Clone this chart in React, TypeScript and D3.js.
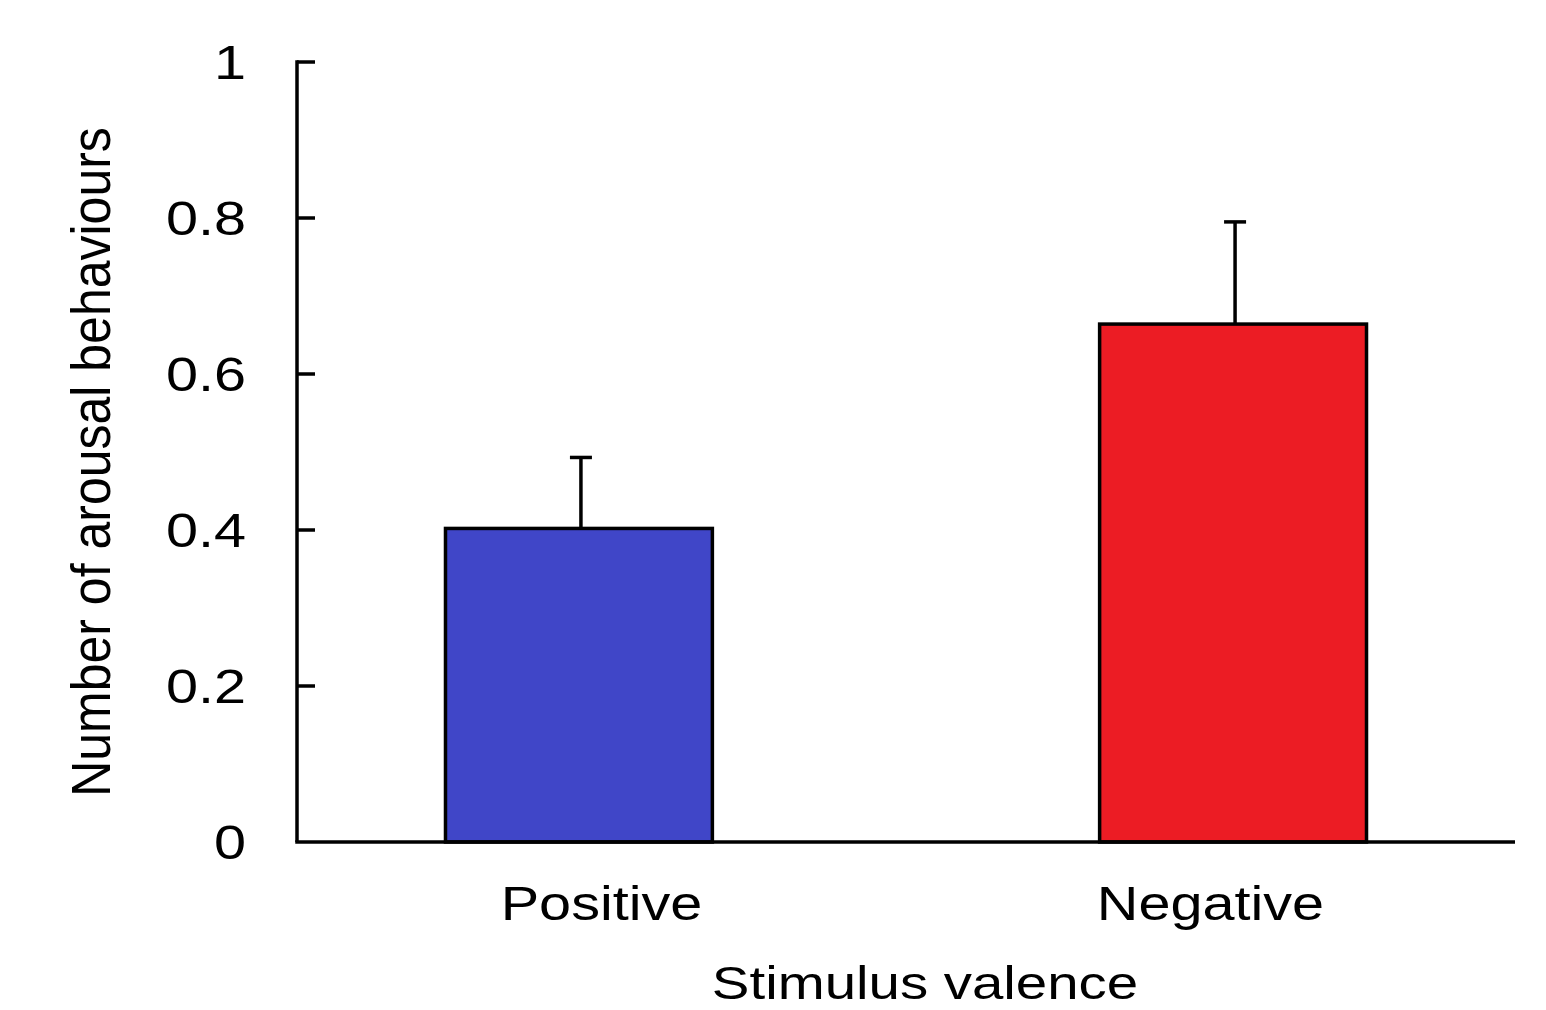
import React from 'react';
import * as d3 from 'd3';

const categories = ['Positive', 'Negative'];
const means = [0.402, 0.664];
const errors = [0.091, 0.131];
const barColors = ['#4046c8', '#ec1c24'];
const yTicks = [0, 0.2, 0.4, 0.6, 0.8, 1];
const yTickLabels = ['0', '0.2', '0.4', '0.6', '0.8', '1'];

const W = 1546;
const H = 1010;
const font = '"Liberation Sans", Arial, sans-serif';
const stretch = 1.2;
const lw = 3.5;

export default function App() {
  const left = 297;
  const right = 1515;
  const y = d3.scaleLinear().domain([0, 1]).range([842, 62]);

  // bars sit in their own band layout
  const xBar = d3
    .scaleBand()
    .domain(categories)
    .range([left, right])
    .paddingInner(0.592)
    .paddingOuter(0.227);

  // category labels are centred on plain bands
  const xLabel = d3.scaleBand().domain(categories).range([left, right]);

  const capHalf = 11;

  return (
    <svg
      width={W}
      height={H}
      style={{ position: 'absolute', left: 0, top: 0, background: '#fff' }}
    >
      {/* bars */}
      {categories.map((c, i) => {
        const x0 = xBar(c) as number;
        const bw = xBar.bandwidth();
        const cx = x0 + bw / 2 + 2;
        return (
          <g key={c}>
            <line
              x1={cx}
              x2={cx}
              y1={y(means[i])}
              y2={y(means[i] + errors[i])}
              stroke="#000"
              strokeWidth={lw}
            />
            <line
              x1={cx - capHalf}
              x2={cx + capHalf}
              y1={y(means[i] + errors[i])}
              y2={y(means[i] + errors[i])}
              stroke="#000"
              strokeWidth={lw}
            />
            <rect
              x={x0}
              y={y(means[i])}
              width={bw}
              height={y(0) - y(means[i])}
              fill={barColors[i]}
              stroke="#000"
              strokeWidth={lw}
            />
          </g>
        );
      })}

      {/* axes */}
      <line x1={left} x2={left} y1={y(1) - lw / 2} y2={y(0)} stroke="#000" strokeWidth={lw} />
      <line x1={left - lw / 2} x2={right} y1={y(0)} y2={y(0)} stroke="#000" strokeWidth={lw} />
      {yTicks.map((t, i) => (
        <g key={t}>
          {t > 0 && (
            <line x1={left} x2={left + 18} y1={y(t)} y2={y(t)} stroke="#000" strokeWidth={lw} />
          )}
          <text
            transform={`translate(246,${y(t)}) scale(${stretch},1)`}
            textAnchor="end"
            dominantBaseline="central"
            fontFamily={font}
            fontSize={48}
            fill="#000"
          >
            {yTickLabels[i]}
          </text>
        </g>
      ))}

      {/* category labels */}
      {categories.map((c) => (
        <text
          key={c}
          transform={`translate(${(xLabel(c) as number) + xLabel.bandwidth() / 2},920) scale(${stretch},1)`}
          textAnchor="middle"
          fontFamily={font}
          fontSize={48}
          fill="#000"
        >
          {c}
        </text>
      ))}

      {/* axis titles */}
      <text
        transform={`translate(925,999) scale(${stretch},1)`}
        textAnchor="middle"
        fontFamily={font}
        fontSize={47}
        fill="#000"
      >
        Stimulus valence
      </text>
      <text
        transform={`translate(110,462) scale(1.1,1) rotate(-90)`}
        textAnchor="middle"
        fontFamily={font}
        fontSize={50}
        fill="#000"
      >
        Number of arousal behaviours
      </text>
    </svg>
  );
}
